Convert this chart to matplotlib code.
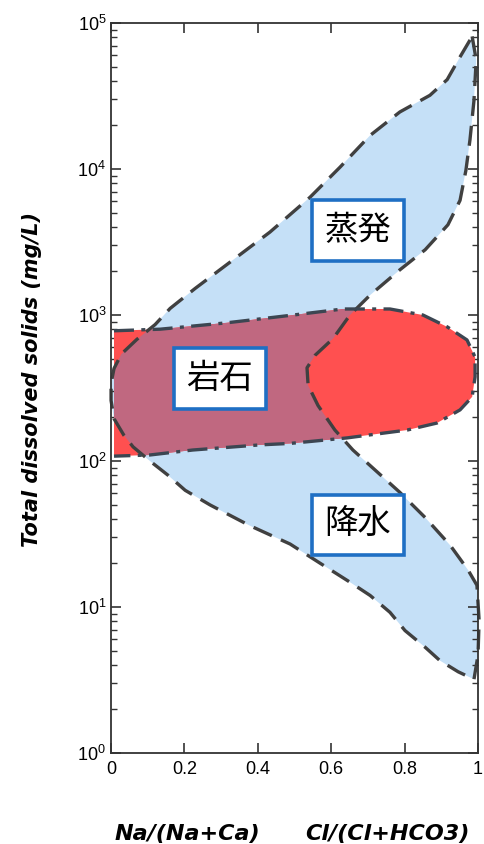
import numpy as np
import matplotlib
matplotlib.use('Agg')
import matplotlib.pyplot as plt
from matplotlib.patches import Polygon
from matplotlib.ticker import LogLocator, FixedLocator, NullFormatter

plt.rcParams['font.family'] = ['Liberation Sans Narrow', 'Liberation Sans', 'DejaVu Sans']
plt.rcParams['mathtext.default'] = 'regular'

# Contorno del campo de evaporación/precipitación (bumerán azul)
agua_x = [0.984, 0.995, 0.989, 0.978, 0.967, 0.951, 0.918, 0.856, 0.787, 0.706,
          0.651, 0.605, 0.556, 0.534, 0.537, 0.564, 0.610, 0.659, 0.719, 0.787,
          0.856, 0.924, 0.973, 0.997, 1.003, 1.000, 0.989, 0.946, 0.896, 0.856,
          0.801, 0.760, 0.706, 0.651, 0.569, 0.488, 0.379, 0.270, 0.202, 0.155,
          0.106, 0.060, 0.035, 0.008, 0.000, 0.000, 0.008, 0.028, 0.070, 0.120,
          0.161, 0.229, 0.324, 0.433, 0.542, 0.624, 0.706, 0.787, 0.869, 0.916,
          0.951]
agua_tds = [81000, 56000, 29500, 15800, 9800, 6100, 4150, 2800, 2040, 1370,
            1000, 690, 530, 435, 330, 240, 163, 119, 87, 61,
            41, 26.5, 17.9, 14.1, 8.1, 4.7, 3.2, 3.6, 4.3, 5.3,
            6.9, 9.2, 12, 14.8, 20, 27, 36, 50, 63, 80,
            100, 125, 150, 195, 260, 340, 430, 540, 680, 860,
            1110, 1520, 2300, 3700, 6400, 10300, 17000, 24600, 32000, 41000,
            58600]

# Contorno del campo de dominio de la roca (rojo)
roca_x = [0.008, 0.134, 0.316, 0.496, 0.632, 0.760, 0.850, 0.916, 0.970, 0.992,
          0.992, 0.984, 0.951, 0.888, 0.807, 0.714, 0.643, 0.488, 0.406, 0.223,
          0.106, 0.008]
roca_tds = [780, 800, 885, 1000, 1100, 1100, 1000, 830, 675, 515,
            377, 275, 224, 182, 163, 152, 144, 132, 129, 119,
            110, 108]

# Etiquetas de los campos
etiquetas = ['蒸発', '岩石', '降水']
etiq_x = [0.673, 0.296, 0.673]
etiq_tds = [3800, 367, 36.5]

fig = plt.figure(figsize=(4.85, 8.44), dpi=100)
ax = fig.add_axes([0.229, 0.1078, 0.7566, 0.8649])
ax.set_yscale('log')
ax.set_xlim(0, 1)
ax.set_ylim(1, 1e5)

azul = '#c5e0f7'
rojo = '#ff5050'
mezcla = '#c06880'
gris = '#404040'

agua = Polygon(np.column_stack([agua_x, agua_tds]), closed=True,
               fc=azul, ec='none', zorder=1)
ax.add_patch(agua)
roca = Polygon(np.column_stack([roca_x, roca_tds]), closed=True,
               fc=rojo, ec='none', zorder=2)
ax.add_patch(roca)
# Zona donde se superponen los dos campos
solape = Polygon(np.column_stack([roca_x, roca_tds]), closed=True,
                 fc=mezcla, ec='none', zorder=3)
ax.add_patch(solape)
solape.set_clip_path(agua)

# Bordes
ax.plot(agua_x + agua_x[:1], agua_tds + agua_tds[:1], color=gris, lw=2.4,
        dashes=(6, 3), zorder=4, clip_on=False)
ax.plot(roca_x, roca_tds, color='#3c4652', lw=2.4,
        dashes=(6, 2.2, 1.2, 2.2), zorder=4)

for txt, x, y in zip(etiquetas, etiq_x, etiq_tds):
    ax.text(x, y, txt, ha='center', va='center', fontsize=24,
            family=['Noto Sans CJK JP', 'DejaVu Sans'], color='black', zorder=6,
            bbox=dict(boxstyle='square,pad=0.38', fc='white', ec='#1f6fc4', lw=2.6))

# Ejes
for s in ax.spines.values():
    s.set_color('#333333')
    s.set_linewidth(1.3)
    s.set_zorder(5)

ax.xaxis.set_major_locator(FixedLocator([0, 0.2, 0.4, 0.6, 0.8, 1.0]))
ax.set_xticklabels(['0', '0.2', '0.4', '0.6', '0.8', '1'])
ax.yaxis.set_major_locator(LogLocator(base=10, numticks=10))
ax.yaxis.set_minor_locator(LogLocator(base=10, subs=np.arange(2, 10), numticks=10))
ax.yaxis.set_minor_formatter(NullFormatter())
ax.tick_params(axis='both', which='major', direction='in', length=7, width=1.2,
               color='#333333', labelsize=13, top=True, right=True)
ax.tick_params(axis='y', which='minor', direction='in', length=4, width=1.0,
               color='#333333', right=True)
ax.tick_params(axis='x', pad=6)

ax.set_ylabel('Total dissolved solids (mg/L)', fontsize=15, fontweight='bold',
              fontstyle='italic', family='DejaVu Sans')
ax.yaxis.set_label_coords(-0.188, 0.511)

fig.text(0.386, 0.0145, 'Na/(Na+Ca)', ha='center', va='center_baseline', fontsize=16,
         fontweight='bold', fontstyle='italic', family='DejaVu Sans')
fig.text(0.798, 0.0145, 'Cl/(Cl+HCO3)', ha='center', va='center_baseline', fontsize=16,
         fontweight='bold', fontstyle='italic', family='DejaVu Sans')

fig.savefig('out.png', dpi=100)
